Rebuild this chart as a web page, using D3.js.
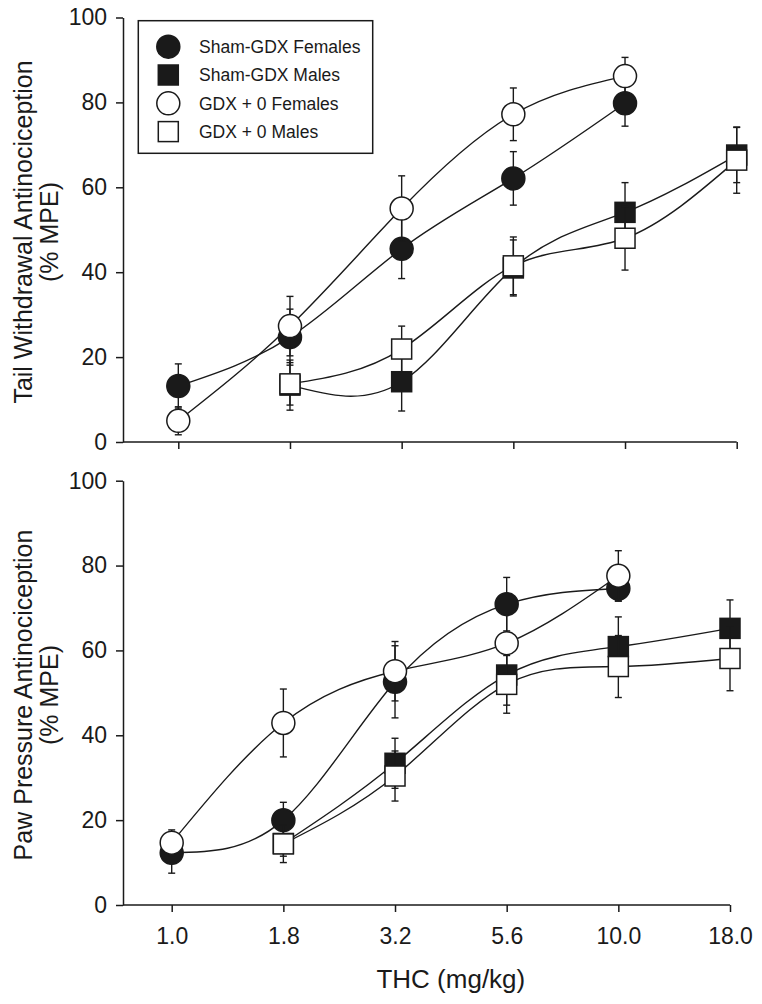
<!DOCTYPE html>
<html><head><meta charset="utf-8">
<script src="https://cdn.jsdelivr.net/npm/d3@7"></script>
<style>
body{margin:0;background:#fff}
svg{display:block}
text{font-family:"Liberation Sans",Arial,Helvetica,sans-serif;fill:#1a1a1a}
</style>
</head><body>
<svg id="chart" width="762" height="1004"></svg>
<script>
// ---------- data ----------
const doses = ["1.0","1.8","3.2","5.6","10.0","18.0"];
const yTicks = [0,20,40,60,80,100];
const seriesNames = ["Sham-GDX Females","Sham-GDX Males","GDX + 0 Females","GDX + 0 Males"];
const seriesShapes = ["circle","square","circle","square"];
const seriesFilled = [true,true,false,false];

// Tail withdrawal (% MPE) — null = not tested
const tailShamF   = [13.2, 24.7, 45.5, 62.1, 79.8, null];
const tailShamFse = [5.2, 6.6, 7.0, 6.3, 5.4, null];
const tailShamM   = [null, 13.4, 14.2, 41.0, 54.1, 67.6];
const tailShamMse = [null, 5.9, 6.9, 6.6, 7.0, 6.5];
const tailGdxF    = [5.0, 27.3, 55.0, 77.2, 86.2, null];
const tailGdxFse  = [3.3, 7.0, 7.7, 6.2, 4.4, null];
const tailGdxM    = [null, 13.7, 21.9, 41.5, 48.0, 66.4];
const tailGdxMse  = [null, 5.0, 5.4, 6.8, 7.5, 7.8];

// Paw pressure (% MPE)
const pawShamF    = [12.3, 20.0, 52.6, 70.9, 74.6, null];
const pawShamFse  = [4.8, 4.2, 8.5, 6.3, 3.0, null];
const pawShamM    = [null, 14.5, 33.4, 54.2, 60.9, 65.2];
const pawShamMse  = [null, 3.0, 5.9, 7.1, 7.0, 6.7];
const pawGdxF     = [14.7, 42.9, 55.1, 61.7, 77.6, null];
const pawGdxFse   = [3.0, 8.0, 7.0, 7.0, 5.9, null];
const pawGdxM     = [null, 14.4, 30.4, 52.0, 56.2, 58.1];
const pawGdxMse   = [null, 4.4, 5.9, 6.8, 7.3, 7.6];

// ---------- layout ----------
const ink = "#1a1a1a";
const svg = d3.select("#chart");
const axisX = 123;
const panels = [
  {top:17.5, bottom:442, x0:178.3, x1:736.7, labels:false, titleY:232,
   title:["Tail Withdrawal Antinociception","(% MPE)"],
   series:[[tailShamF,tailShamFse],[tailShamM,tailShamMse],[tailGdxF,tailGdxFse],[tailGdxM,tailGdxMse]]},
  {top:480.7, bottom:905, x0:171.7, x1:730, labels:true, titleY:695,
   title:["Paw Pressure Antinociception","(% MPE)"],
   series:[[pawShamF,pawShamFse],[pawShamM,pawShamMse],[pawGdxF,pawGdxFse],[pawGdxM,pawGdxMse]]}
];

const R = 11.5, SQ = 20, CAP = 3.5;

function drawMarker(g, shape, filled, cx, cy) {
  if (shape === "circle") {
    g.append("circle").attr("cx",cx).attr("cy",cy).attr("r",R)
      .attr("fill", filled ? ink : "#fff").attr("stroke",ink).attr("stroke-width",1.5);
  } else {
    g.append("rect").attr("x",cx-SQ/2).attr("y",cy-SQ/2).attr("width",SQ).attr("height",SQ)
      .attr("fill", filled ? ink : "#fff").attr("stroke",ink).attr("stroke-width",1.5);
  }
}

panels.forEach(p => {
  const x = d3.scalePoint().domain(doses).range([p.x0, p.x1]).padding(0);
  const y = d3.scaleLinear().domain([0,100]).range([p.bottom, p.top]);
  const g = svg.append("g");

  // y axis
  const ya = g.append("g").attr("transform",`translate(${axisX},0)`)
    .call(d3.axisLeft(y).tickValues(yTicks).tickSize(7).tickSizeOuter(0).tickPadding(9));
  ya.select(".domain").attr("stroke",ink).attr("stroke-width",1.5);
  ya.selectAll(".tick line").attr("stroke",ink).attr("stroke-width",1.5);
  ya.selectAll(".tick text").attr("font-size",23).attr("fill",ink)
    .style("font-family",'"Liberation Sans",Arial,sans-serif');

  // x axis
  const xa = g.append("g").attr("transform",`translate(0,${p.bottom})`)
    .call(d3.axisBottom(x).tickSize(7).tickSizeOuter(0).tickPadding(16)
      .tickFormat(p.labels ? (d=>d) : (()=>"")));
  xa.select(".domain").remove();
  xa.selectAll(".tick line").attr("stroke",ink).attr("stroke-width",1.5);
  xa.selectAll(".tick text").attr("font-size",23).attr("fill",ink)
    .style("font-family",'"Liberation Sans",Arial,sans-serif');
  g.append("line").attr("x1",axisX).attr("x2",x(doses[doses.length-1]))
    .attr("y1",p.bottom).attr("y2",p.bottom).attr("stroke",ink).attr("stroke-width",1.5);

  // y title
  const t = g.append("text").attr("transform",`translate(32,${p.titleY}) rotate(-90)`)
    .attr("text-anchor","middle").attr("font-size",25);
  t.append("tspan").attr("x",0).attr("dy",0).text(p.title[0]);
  t.append("tspan").attr("x",0).attr("dy",26).text(p.title[1]);

  // lines
  const lineGen = d3.line().x(d => x(d.dose)).y(d => y(d.v)).curve(d3.curveNatural);
  p.series.forEach(([vals]) => {
    const pts = doses.map((d,i)=>({dose:d, v:vals[i]})).filter(d=>d.v!=null);
    g.append("path").attr("d", lineGen(pts)).attr("fill","none")
      .attr("stroke",ink).attr("stroke-width",1.4);
  });

  // error bars + markers in legend order
  p.series.forEach(([vals, se], si) => {
    doses.forEach((d,i) => {
      if (vals[i] == null) return;
      const cx = x(d), lo = y(vals[i]-se[i]), hi = y(vals[i]+se[i]);
      g.append("line").attr("x1",cx).attr("x2",cx).attr("y1",lo).attr("y2",hi)
        .attr("stroke",ink).attr("stroke-width",1.4);
      [lo,hi].forEach(yy => g.append("line").attr("x1",cx-CAP).attr("x2",cx+CAP)
        .attr("y1",yy).attr("y2",yy).attr("stroke",ink).attr("stroke-width",1.4));
    });
    doses.forEach((d,i) => {
      if (vals[i] == null) return;
      drawMarker(g, seriesShapes[si], seriesFilled[si], x(d), y(vals[i]));
    });
  });

  if (p.labels) {
    g.append("text").attr("x",(p.x0+p.x1)/2).attr("y",988).attr("text-anchor","middle")
      .attr("font-size",26).text("THC (mg/kg)");
  }
});

// legend
const lg = svg.append("g");
lg.append("rect").attr("x",138.3).attr("y",20.7).attr("width",234.4).attr("height",132.6)
  .attr("fill","#fff").attr("stroke",ink).attr("stroke-width",1.5);
seriesNames.forEach((name,i) => {
  const cy = 46.7 + i*28.3;
  drawMarker(lg, seriesShapes[i], seriesFilled[i], 168.3, cy);
  lg.append("text").attr("x",199).attr("y",cy+6.3).attr("font-size",17.5).text(name);
});
</script>
</body></html>
